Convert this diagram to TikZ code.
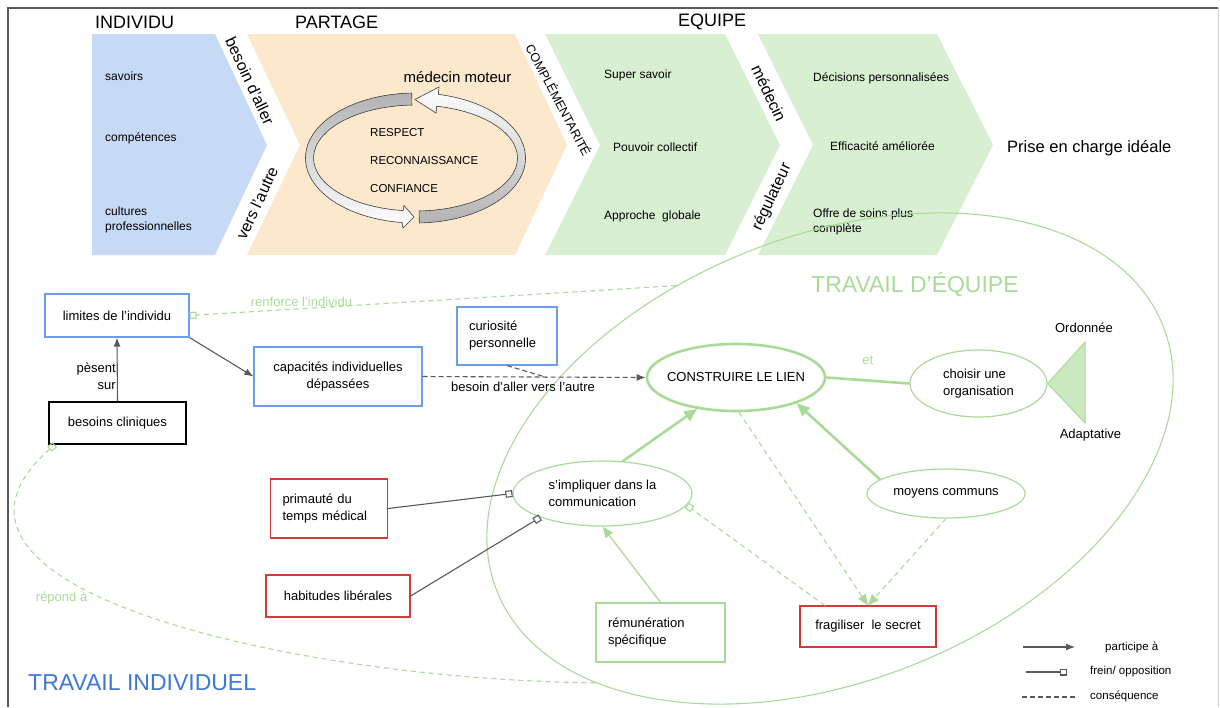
\documentclass[tikz,border=0pt]{standalone}
\usepackage{fontspec}
\setmainfont{Liberation Sans}
\usepackage{tikz}
\usetikzlibrary{arrows.meta}
\usetikzlibrary{shapes.geometric}

\definecolor{bleuclair}{HTML}{C6D9F5}
\definecolor{orangeclair}{HTML}{FCE8CD}
\definecolor{vertclair}{HTML}{D9EFD1}
\definecolor{vert}{HTML}{A9DB98}
\definecolor{bleu}{HTML}{6D9EEB}
\definecolor{bleufonce}{HTML}{3C78D8}
\definecolor{rouge}{HTML}{D03A3A}
\definecolor{gris}{HTML}{595959}

\tikzset{>={Latex[length=9pt,width=7pt]}}
\tikzset{
  titre/.style = {font=\fontsize{18}{22}\selectfont, anchor=west, inner sep=0pt},
  grand/.style = {font=\fontsize{23}{28}\selectfont, anchor=west, inner sep=0pt},
  item/.style = {font=\fontsize{12}{15}\selectfont, anchor=west, inner sep=0pt, align=left},
  capit/.style = {font=\fontsize{11.5}{14}\selectfont, anchor=west, inner sep=0pt},
  pivot/.style = {font=\fontsize{16}{19}\selectfont, inner sep=0pt},
  etiq/.style = {font=\fontsize{13}{17}\selectfont, inner sep=1pt},
  etiqvert/.style = {etiq, text=vert},
  legende/.style = {font=\fontsize{11.5}{14}\selectfont, anchor=west, inner sep=0pt},
  boite/.style = {rectangle, draw=#1, line width=1.2pt, inner sep=0pt, align=center, font=\fontsize{13}{17}\selectfont},
  bulle/.style = {ellipse, draw=vert, line width=1.2pt, inner sep=0pt, align=left, font=\fontsize{13}{17}\selectfont},
  participe/.style = {->, draw=gris, line width=1.1pt},
  consequence/.style = {->, draw=gris, line width=1.1pt, dash pattern=on 5pt off 3pt},
  frein/.style = {-{Square[open,length=7pt,width=7pt]}, draw=gris, line width=1.1pt},
  appui/.style = {-{Triangle[length=13pt,width=11pt]}, draw=vert, line width=2.6pt},
  soutien/.style = {-{Triangle[length=11pt,width=9pt]}, draw=vert, line width=1.3pt},
  suite/.style = {-{Triangle[length=11pt,width=9pt]}, draw=vert, line width=1.1pt, dash pattern=on 5pt off 4pt},
  freinvert/.style = {-{Square[open,length=7pt,width=7pt]}, draw=vert, line width=1.1pt, dash pattern=on 5pt off 4pt}
}

\begin{document}
\begin{tikzpicture}[x=1pt, y=-1pt]
\useasboundingbox (0,0) rectangle (1220,707);

% cadre
\draw[gris, line width=1.8pt] (8,707) -- (8,8) -- (1218,8);
\draw[gray!35, line width=1pt] (1218,8) -- (1218,707);

% fleches du haut
\fill[bleuclair] (92,34) -- (215,34) -- (267,145) -- (215,255) -- (92,255) -- cycle;
\fill[orangeclair] (247,34) -- (515,34) -- (567,145) -- (515,255) -- (247,255) -- (300,145) -- cycle;
\fill[vertclair] (545,34) -- (725,34) -- (780,145) -- (725,255) -- (545,255) -- (600,145) -- cycle;
\fill[vertclair] (758,34) -- (937,34) -- (993,145) -- (937,255) -- (758,255) -- (813,145) -- cycle;

\node[titre] (individu) at (95,22) {INDIVIDU};
\node[titre] (partage) at (295,22) {PARTAGE};
\node[titre] (equipetitre) at (678,22) {EQUIPE};

\node[pivot, rotate=-65] (aller) at (250,81) {besoin d’aller};
\node[pivot, rotate=65] (autre) at (257,203) {vers l’autre};
\node[pivot, font=\fontsize{12.5}{15}\selectfont, rotate=-62] (complement) at (559,100) {COMPLÉMENTARITÉ};
\node[pivot, rotate=-65] (medecin) at (769,93) {médecin};
\node[pivot, rotate=65] (regulateur) at (772,197) {régulateur};

\node[item] (savoirs) at (105,76) {savoirs};
\node[item] (competences) at (105,138) {compétences};
\node[item] (cultures) at (105,220) {cultures\\professionnelles};

% anneau du partage
\filldraw[top color=white, bottom color=gray!60, draw=gray!60!black, line width=0.6pt]
  (415.5,158) ++(88:110 and 65) arc[start angle=88, end angle=-78, x radius=110, y radius=65]
  -- (439,87) -- (415,99.5) -- (436,113) -- (436.7,106.2)
  arc[start angle=-78, end angle=88, x radius=102, y radius=53] -- cycle;
\filldraw[top color=gray!60, bottom color=white, draw=gray!60!black, line width=0.6pt]
  (415.5,158) ++(-92:110 and 65) arc[start angle=-92, end angle=-263, x radius=110, y radius=65]
  -- (403,228) -- (414,217) -- (404,205.5) -- (403.1,210.6)
  arc[start angle=-263, end angle=-92, x radius=102, y radius=53] -- cycle;

\node[pivot, font=\fontsize{15}{18}\selectfont] (moteur) at (457.5,77) {médecin moteur};
\node[capit] (respect) at (370,133) {RESPECT};
\node[capit] (reconnaissance) at (370,161) {RECONNAISSANCE};
\node[capit] (confiance) at (370,189) {CONFIANCE};

\node[item] (supersavoir) at (604,75) {Super savoir};
\node[item] (pouvoir) at (613,147) {Pouvoir collectif};
\node[item] (approche) at (604,216) {Approche\ \ globale};

\node[item] (decisions) at (813,78) {Décisions personnalisées};
\node[item] (efficacite) at (830,146) {Efficacité améliorée};
\node[item] (offre) at (813,222) {Offre de soins plus\\complète};

\node[pivot, font=\fontsize{16.5}{20}\selectfont, anchor=west] (prise) at (1007,148) {Prise en charge idéale};

% travail d'equipe
\node[draw=vert, line width=1.1pt, ellipse, rotate=21.7, minimum width=717pt, minimum height=445pt, inner sep=0pt] (equipe) at (830,458.5) {};
\node[grand, text=vert] (titreequipe) at (811,285) {TRAVAIL D’ÉQUIPE};
\node[grand, text=bleufonce] (titreindividuel) at (28,683) {TRAVAIL INDIVIDUEL};

% boites
\node[boite=bleu, minimum width=144pt, minimum height=43pt] (limites) at (117,315.5) {limites de l’individu};
\node[boite=black, minimum width=137pt, minimum height=42pt] (besoins) at (117.5,423) {besoins cliniques};
\node[boite=bleu, minimum width=168pt, minimum height=59pt] (capacites) at (338,376.5) {capacités individuelles\\dépassées};
\node[boite=bleu, align=left, text width=76pt, inner xsep=12pt, minimum height=58pt] (curiosite) at (507,336) {curiosité\\personnelle};
\node[boite=rouge, align=left, text width=93pt, inner xsep=12pt, minimum height=59pt] (primaute) at (329,508.5) {primauté du\\temps médical};
\node[boite=rouge, minimum width=144pt, minimum height=42pt] (habitudes) at (338,596) {habitudes libérales};
\node[boite=vert, align=left, text width=105pt, inner xsep=12pt, minimum height=59pt] (remuneration) at (660.5,632.5) {rémunération\\spécifique};
\node[boite=rouge, minimum width=136pt, minimum height=41pt] (fragiliser) at (868,626.5) {fragiliser\ \ le secret};

% bulles
\node[bulle, line width=2.6pt, minimum width=178pt, minimum height=67pt, label={[etiq]center:CONSTRUIRE LE LIEN}] (lien) at (736,377.5) {};
\node[bulle, minimum width=179pt, minimum height=65pt] (impliquer) at (602.5,493.5) {s’impliquer dans la\\communication};
\node[bulle, minimum width=137pt, minimum height=67pt] (choisir) at (978.5,383.5) {choisir une\\organisation};
\node[bulle, minimum width=158pt, minimum height=49pt, align=center] (moyens) at (946,493.5) {moyens communs};

% organisation ordonnee / adaptative
\coordinate (ordre) at (1085,342);
\coordinate (adapt) at (1085,423);
\filldraw[draw=vert, fill=vert!60, line width=1pt] (choisir.east) -- (ordre) -- (adapt) -- cycle;
\node[etiq] (ordonnee) at (1084,328) {Ordonnée};
\node[etiq] (adaptative) at (1090.5,435) {Adaptative};

% liens du travail individuel
\draw[participe] (besoins.north) -- node[etiq, left, align=right, pos=0.4] {pèsent\\sur} (limites.south);
\draw[participe] (limites.south east) -- (capacites.west);
\draw[consequence] (capacites.east) -- node[etiq, below=4pt, pos=0.45] {besoin d’aller vers l’autre} (lien.west);
\coordinate (rejoint) at (547,377.5);
\draw[consequence, -] (curiosite.south) -- (rejoint);

% liens du travail d'equipe
\draw[appui] (impliquer.58) -- (lien.219);
\draw[appui] (moyens.168) -- (lien.-23);
\draw[vert, line width=2.6pt] (lien.east) -- node[etiqvert, above=14pt] {et} (choisir.west);
\draw[soutien] (remuneration.north) -- (impliquer.south);
\draw[frein] (primaute.east) -- (impliquer.west);
\draw[frein] (habitudes.east) -- (impliquer.201);
\draw[suite] (lien.-85) -- (fragiliser.north);
\draw[suite] (moyens.south) -- (fragiliser.north);
\draw[freinvert] (fragiliser.154) -- (impliquer.-8);
\draw[freinvert] (equipe.110) -- node[etiqvert, pos=0.77, above] {renforce l’individu} (limites.east);
\draw[freinvert] (equipe.202) .. controls (300,680) and (-110,590) .. node[etiqvert, pos=0.6, anchor=north east] {répond à} (besoins.199);

% legende
\node[legende] (legpart) at (1105,647) {participe à};
\node[legende] (legfrein) at (1090,672) {frein/ opposition};
\node[legende] (legcons) at (1090,696) {conséquence};
\coordinate (lp1) at (1023,647);
\coordinate (lp2) at (1075,647);
\coordinate (lf1) at (1026,672);
\coordinate (lf2) at (1067,672);
\coordinate (lc1) at (1022,697);
\coordinate (lc2) at (1078,697);
\draw[participe] (lp1) -- (lp2);
\draw[frein] (lf1) -- (lf2);
\draw[consequence, -] (lc1) -- (lc2);
\end{tikzpicture}
\end{document}
